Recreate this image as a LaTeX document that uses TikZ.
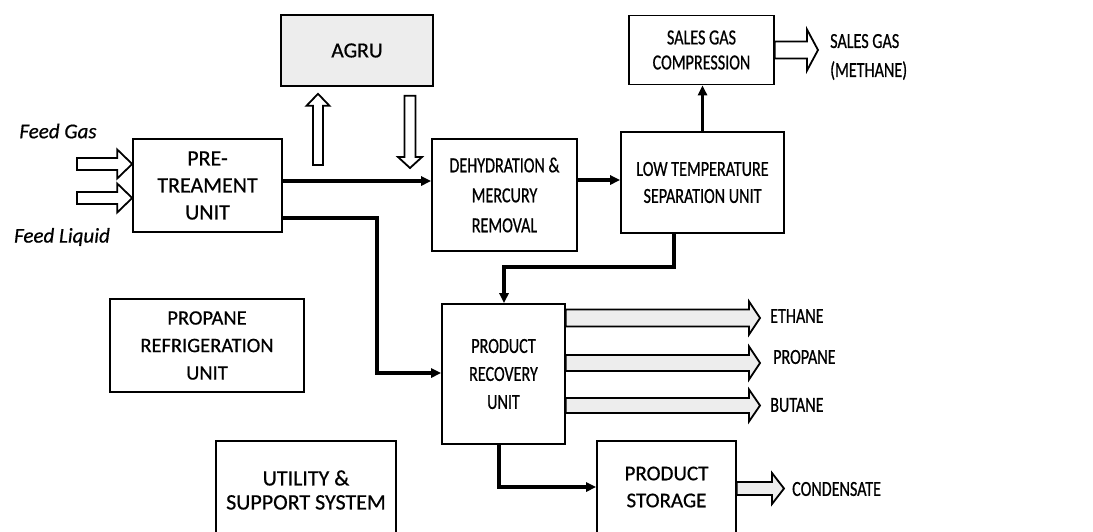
\documentclass[tikz,border=0pt]{standalone}
\usepackage{fontspec}
\setmainfont[FakeBold=0.6]{Carlito}
\newfontfamily\narrowfont[FakeStretch=0.75,FakeBold=0.6]{Carlito}
\usetikzlibrary{arrows.meta,calc}

% hollow block arrows: [style]{from}{tip}{shaft half}{head half}{head length}
\newcommand\hblock[6][]{%
  \draw[blk,#1] let \p1=#2, \p2=#3 in
    (\x1,{\y1+#4}) -- ({\x2-#6},{\y1+#4}) -- ({\x2-#6},{\y1+#5}) -- (\x2,\y1)
    -- ({\x2-#6},{\y1-#5}) -- ({\x2-#6},{\y1-#4}) -- (\x1,{\y1-#4}) -- cycle;}
\newcommand\upblock[6][]{%
  \draw[blk,#1] let \p1=#2, \p2=#3 in
    ({\x1-#4},\y1) -- ({\x1-#4},{\y2-#6}) -- ({\x1-#5},{\y2-#6}) -- (\x1,\y2)
    -- ({\x1+#5},{\y2-#6}) -- ({\x1+#4},{\y2-#6}) -- ({\x1+#4},\y1) -- cycle;}
\newcommand\downblock[6][]{%
  \draw[blk,#1] let \p1=#2, \p2=#3 in
    ({\x1-#4},\y1) -- ({\x1-#4},{\y2+#6}) -- ({\x1-#5},{\y2+#6}) -- (\x1,\y2)
    -- ({\x1+#5},{\y2+#6}) -- ({\x1+#4},{\y2+#6}) -- ({\x1+#4},\y1) -- cycle;}

\begin{document}
\begin{tikzpicture}[x=1pt,y=-1pt,
  unit/.style={draw, line width=1.6pt, inner sep=0pt, align=center, fill=white},
  wide/.style={font=\fontsize{21.5}{27}\selectfont},
  slim/.style={font=\narrowfont\fontsize{21.5}{27}\selectfont},
  flow/.style={line width=3.2pt, -{Triangle[length=10pt,width=9pt]}},
  blk/.style={line width=1.8pt, draw, fill=white},
  speck/.style={fill=gray!14},
  tag/.style={inner sep=0pt, anchor=west, font=\narrowfont\fontsize{21.5}{29}\selectfont, align=left},
  feed/.style={inner sep=0pt, font=\itshape\fontsize{21}{25}\selectfont}]

\useasboundingbox (0,0) rectangle (1093,531);
\clip (0,0) rectangle (1093,531);

% process units
\node[unit, speck, wide, minimum width=152, minimum height=71] (agru) at (357,50.5) {AGRU};
\node[unit, wide, font=\fontsize{22}{27}\selectfont, minimum width=149, minimum height=93] (pre) at (207.5,185.5) {PRE-\\TREAMENT\\UNIT};
\node[unit, slim, font=\narrowfont\fontsize{21.5}{30}\selectfont, minimum width=145, minimum height=112] (dehy) at (504.5,195) {DEHYDRATION \&\\MERCURY\\REMOVAL};
\node[unit, slim, minimum width=163, minimum height=101] (lts) at (702.5,182.5) {LOW TEMPERATURE\\SEPARATION UNIT};
\node[unit, slim, font=\narrowfont\fontsize{21.5}{25}\selectfont, minimum width=145, minimum height=69] (sgc) at (701.5,50) {SALES GAS\\COMPRESSION};
\node[unit, slim, font=\narrowfont\fontsize{21.5}{28}\selectfont, minimum width=123, minimum height=140] (prec) at (503.5,374) {PRODUCT\\RECOVERY\\UNIT};
\node[unit, wide, font=\fontsize{21}{27}\selectfont, minimum width=139, minimum height=92] (pstore) at (666.5,487) {PRODUCT\\STORAGE};
\node[unit, wide, font=\fontsize{20.5}{27.5}\selectfont, minimum width=194, minimum height=93] (prop) at (207,345.5) {PROPANE\\REFRIGERATION\\UNIT};
\node[unit, wide, font=\fontsize{22}{24}\selectfont, minimum width=180, minimum height=98] (util) at (306,490) {UTILITY \&\\SUPPORT SYSTEM};

% feed streams
\node[feed] (fgas) at (58,131) {Feed Gas};
\node[feed] (fliq) at (62,237) {Feed Liquid};
\coordinate (fgin) at (77,164);
\coordinate (flin) at (77,198);
\hblock{(fgin)}{(pre.west |- fgin)}{6pt}{14.5pt}{15pt}
\hblock{(flin)}{(pre.west |- flin)}{6pt}{14.5pt}{15pt}

% acid gas removal loop
\coordinate (agin) at (318,165);
\coordinate (agout) at (410,168);
\upblock{(agin)}{($(agru.south -| agin)+(0,7)$)}{5pt}{11.5pt}{12pt}
\downblock{($(agru.south -| agout)+(0,9)$)}{(agout)}{5.5pt}{12pt}{11pt}

% process flow lines
\draw[flow] (pre.east |- 0,181) -- (dehy.west |- 0,181);
\draw[flow] (pre.east |- 0,218) -| (377,373) -- (prec.west |- 0,373);
\draw[flow] (dehy.east |- 0,180) -- (lts.west |- 0,180);
\draw[flow] (lts.north) -- (lts.north |- sgc.south);
\draw[flow] (lts.south -| 674,0) |- (504,267) -- (prec.north -| 504,0);
\draw[flow] (prec.south -| 499,0) |- (pstore.west);

% product streams
\coordinate (sgtip) at (818,50);
\coordinate (ettip) at (760,318);
\coordinate (prtip) at (760,363);
\coordinate (bttip) at (760,405.5);
\coordinate (cdtip) at (784,488.5);
\hblock{(sgc.east |- sgtip)}{(sgtip)}{8.5pt}{20.5pt}{11pt}
\hblock[speck]{(prec.east |- ettip)}{(ettip)}{8.5pt}{16.5pt}{11pt}
\hblock[speck]{(prec.east |- prtip)}{(prtip)}{8pt}{16.5pt}{11pt}
\hblock[speck]{(prec.east |- bttip)}{(bttip)}{7.5pt}{16pt}{11pt}
\hblock[speck]{(pstore.east |- cdtip)}{(cdtip)}{6.5pt}{15.5pt}{12pt}

\node[tag] (sgl) at (830,57) {SALES GAS\\(METHANE)};
\node[tag] (etl) at (770,316) {ETHANE};
\node[tag] (prl) at (773,357) {PROPANE};
\node[tag] (btl) at (770,405) {BUTANE};
\node[tag] (cdl) at (792,489) {CONDENSATE};
\end{tikzpicture}
\end{document}
